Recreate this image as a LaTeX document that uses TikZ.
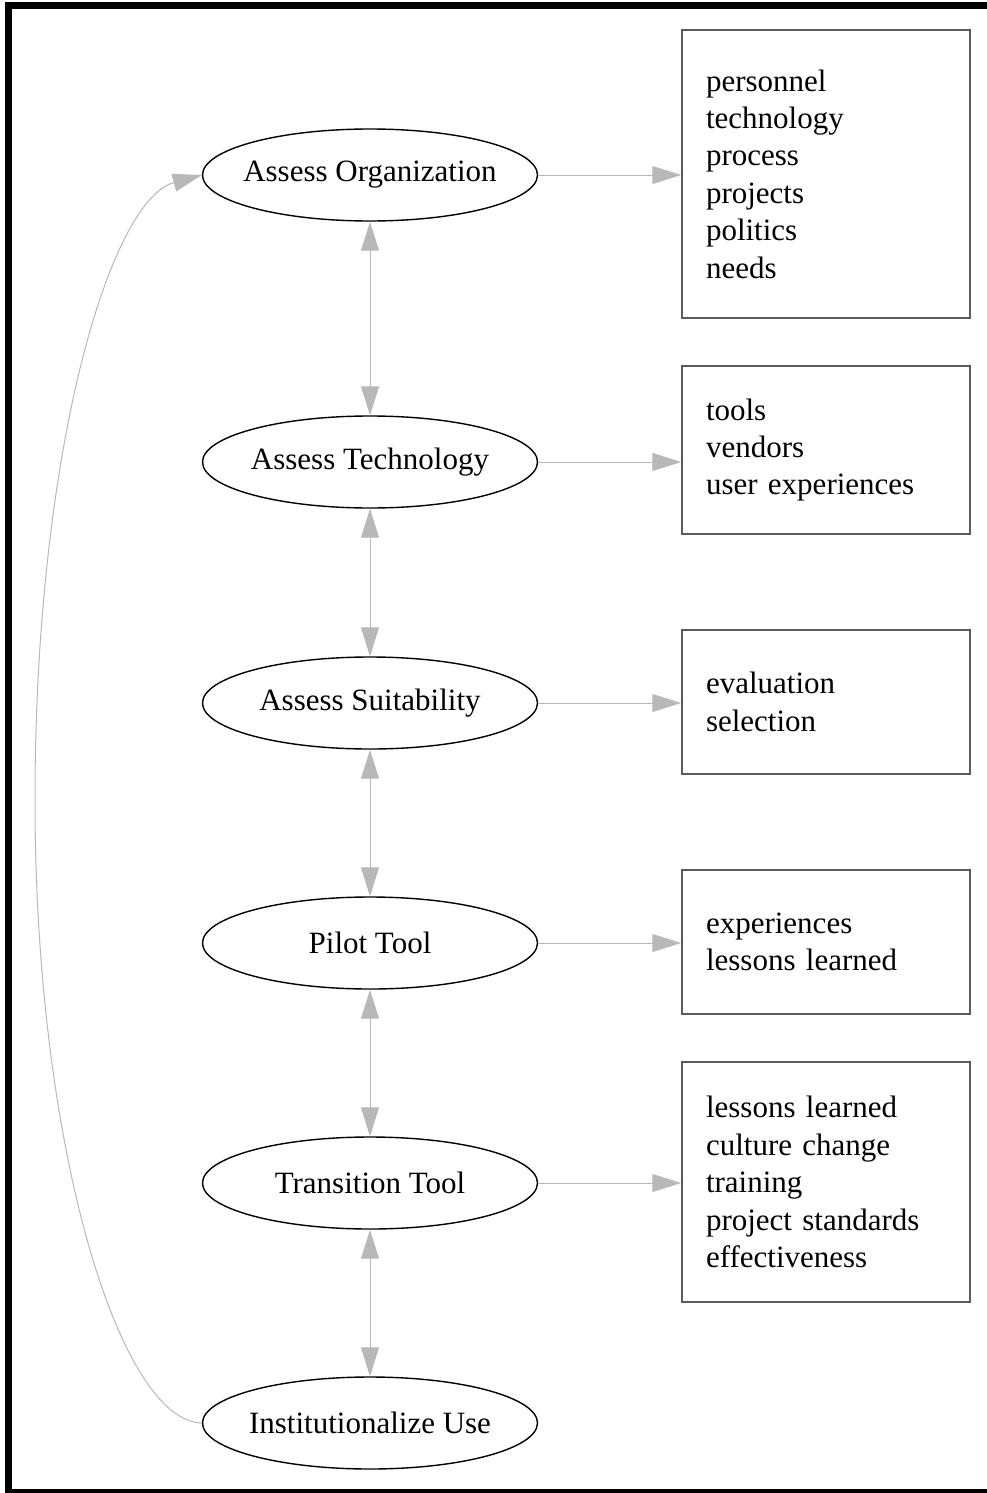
\documentclass[tikz,border=0pt]{standalone}
\usepackage{fontspec}
\setmainfont{Liberation Serif}
\usetikzlibrary{arrows.meta,shapes.geometric}
\definecolor{arrowgray}{RGB}{184,184,184}
\definecolor{boxgray}{RGB}{90,90,90}
\tikzset{
  stage/.style={draw=black,line width=0.7pt,ellipse,minimum width=167.5pt,minimum height=46pt,inner xsep=-20pt,inner ysep=0pt},
  notes/.style={draw=boxgray,line width=0.75pt,rectangle,text width=120pt,inner xsep=12pt,inner ysep=0pt,align=left},
  flow/.style={draw=arrowgray,line width=0.5pt,-{Triangle[length=14.5pt,width=9pt]}},
  bothflow/.style={draw=arrowgray,line width=0.5pt,{Triangle[length=14.5pt,width=9pt]}-{Triangle[length=14.5pt,width=9pt]}}
}
\begin{document}
\begin{tikzpicture}[x=0.5pt,y=-0.5pt,font=\fontsize{15.5}{18.7}\selectfont]
\useasboundingbox (0,0) rectangle (986,1493);
\draw[line width=3.5pt] (8,6) rectangle (1000,1492);
% stages
\node[stage] (org) at (370,175) {Assess Organization};
\node[stage] (tech) at (370,462) {Assess Technology};
\node[stage] (suit) at (370,703) {Assess Suitability};
\node[stage] (pilot) at (370,943) {Pilot Tool};
\node[stage] (trans) at (370,1183) {Transition Tool};
\node[stage] (use) at (370,1423) {Institutionalize Use};
% notes
\node[notes,minimum height=144pt] (orgnotes) at (826,174) {personnel\\technology\\process\\projects\\politics\\needs};
\node[notes,minimum height=84pt] (technotes) at (826,450) {tools\\vendors\\user experiences};
\node[notes,minimum height=72pt] (suitnotes) at (826,702) {evaluation\\selection};
\node[notes,minimum height=72pt] (pilotnotes) at (826,942) {experiences\\lessons learned};
\node[notes,minimum height=120pt] (transnotes) at (826,1182) {lessons learned\\culture change\\training\\project standards\\effectiveness};
% links
\draw[bothflow] (org.south)--(tech.north);
\draw[bothflow] (tech.south)--(suit.north);
\draw[bothflow] (suit.south)--(pilot.north);
\draw[bothflow] (pilot.south)--(trans.north);
\draw[bothflow] (trans.south)--(use.north);
\draw[flow] (org.east)--(org.east-|orgnotes.west);
\draw[flow] (tech.east)--(tech.east-|technotes.west);
\draw[flow] (suit.east)--(suit.east-|suitnotes.west);
\draw[flow] (pilot.east)--(pilot.east-|pilotnotes.west);
\draw[flow] (trans.east)--(trans.east-|transnotes.west);
\coordinate (bend) at (35,800);
\draw[flow] (use.west) .. controls (120,1421) and (35,1150) .. (bend)
  .. controls (35,450) and (110,200) .. (org.west);
\end{tikzpicture}
\end{document}
